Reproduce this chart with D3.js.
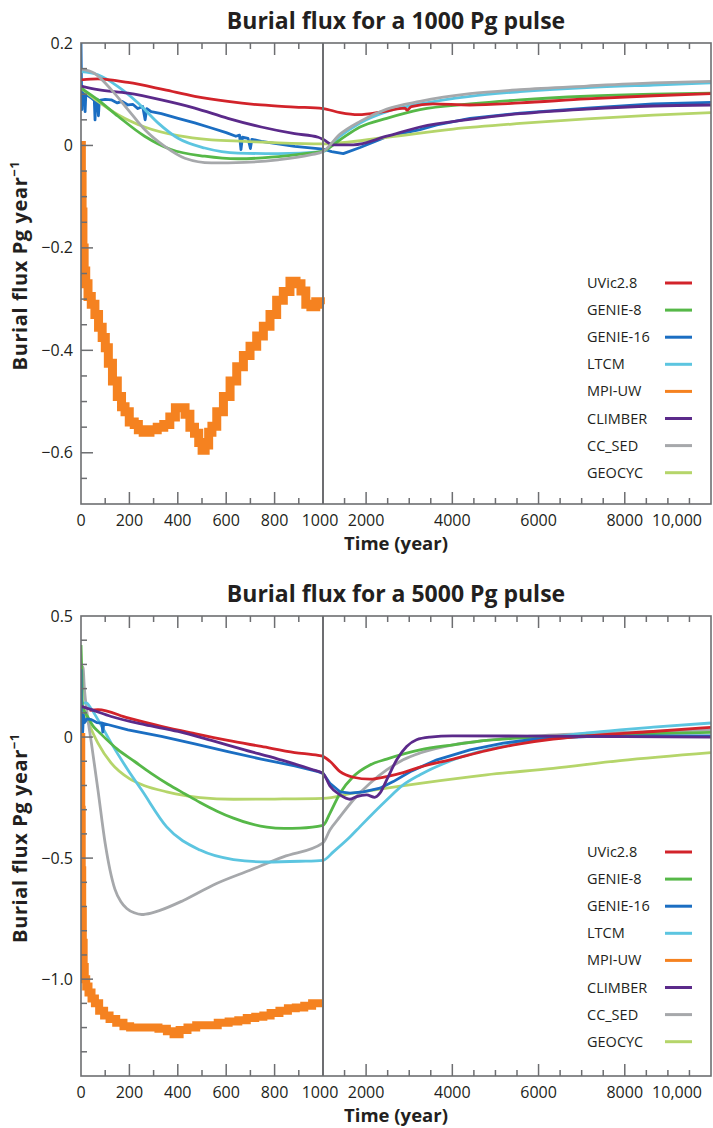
<!DOCTYPE html>
<html><head><meta charset="utf-8">
<script src="https://cdn.jsdelivr.net/npm/d3@7"></script>
<style>
html,body{margin:0;padding:0;background:#fff;}
svg{display:block;font-family:"Open Sans","Noto Sans",sans-serif;}
</style></head>
<body>
<svg id="chart" width="713" height="1128"></svg>
<script>
// ---------- data ----------
const models = ["UVic2.8","GENIE-8","GENIE-16","LTCM","MPI-UW","CLIMBER","CC_SED","GEOCYC"];
const modelColors = ["#d2232a","#56b848","#1b6ec2","#5cc5e0","#f58220","#5b2a8a","#a6a8ab","#b5d56a"];
const xTickValues = [0,200,400,600,800,1000,2000,4000,6000,8000,10000];
const xTickLabels = ["0","200","400","600","800","1000","2000","4000","6000","8000","10,000"];
const topYTicks = [0.2,0,-0.2,-0.4,-0.6];
const topYTickLabels = ["0.2","0","\u22120.2","\u22120.4","\u22120.6"];
const botYTicks = [0.5,0,-0.5,-1.0];
const botYTickLabels = ["0.5","0","\u22120.5","\u22121.0"];

// ---- 1000 Pg pulse ----
const top_uvic = [[0,0.128],[70,0.13],[194,0.123],[343,0.109],[470,0.096],[607,0.086],[744,0.079],[883,0.075],[1000,0.072],[1400,0.064],[1820,0.06],[2400,0.066],[2900,0.073],[2950,0.069],[3050,0.076],[3550,0.081],[4400,0.079],[5570,0.083],[7110,0.091],[8660,0.097],[10000,0.101]];
const top_genie8 = [[0,0.112],[70,0.089],[153,0.057],[263,0.018],[372,-0.008],[511,-0.021],[649,-0.026],[786,-0.023],[924,-0.016],[1000,-0.011],[1395,0.011],[1858,0.036],[2477,0.053],[3250,0.07],[4410,0.081],[5570,0.089],[7120,0.096],[8660,0.1],[10000,0.102]];
const top_genie16 = [[0,0.2],[2,0.12],[4,0.07],[6,0.115],[10,0.105],[14,0.1],[17,0.066],[20,0.1],[30,0.097],[45,0.092],[55,0.088],[58,0.05],[61,0.085],[68,0.09],[72,0.058],[76,0.088],[100,0.09],[125,0.089],[150,0.083],[170,0.086],[194,0.079],[215,0.08],[235,0.072],[255,0.076],[265,0.05],[272,0.072],[290,0.066],[332,0.062],[401,0.053],[470,0.044],[539,0.034],[600,0.025],[640,0.018],[655,0.02],[661,-0.008],[667,0.016],[690,0.014],[700,-0.006],[706,0.012],[745,0.008],[800,0.004],[883,-0.002],[1000,-0.007],[1200,-0.012],[1470,-0.016],[1860,-0.004],[2480,0.017],[3250,0.031],[3640,0.04],[4410,0.053],[5570,0.063],[7120,0.073],[8660,0.081],[10000,0.084]];
const top_ltcm = [[0,0.144],[70,0.138],[153,0.115],[236,0.083],[318,0.044],[401,0.014],[511,-0.005],[649,-0.015],[814,-0.016],[1000,-0.012],[1395,0.018],[1860,0.044],[2480,0.066],[3250,0.081],[4410,0.096],[5570,0.105],[7120,0.113],[8660,0.118],[10000,0.122]];
const top_mpi = [[0,0],[3,-0.06],[6,-0.13],[10,-0.2],[16,-0.245],[23,-0.27],[35,-0.295],[50,-0.31],[65,-0.33],[80,-0.355],[95,-0.375],[106,-0.395],[120,-0.425],[140,-0.46],[160,-0.49],[175,-0.51],[189,-0.52],[210,-0.54],[230,-0.545],[244,-0.555],[270,-0.56],[300,-0.555],[330,-0.55],[354,-0.545],[380,-0.53],[400,-0.512],[420,-0.512],[440,-0.525],[460,-0.55],[478,-0.562],[495,-0.58],[506,-0.595],[520,-0.585],[535,-0.56],[547,-0.548],[575,-0.52],[602,-0.49],[630,-0.46],[657,-0.432],[685,-0.41],[712,-0.392],[740,-0.372],[767,-0.353],[795,-0.33],[822,-0.302],[850,-0.285],[877,-0.265],[900,-0.27],[918,-0.284],[940,-0.31],[960,-0.315],[980,-0.305],[998,-0.31]];
const top_climber = [[0,0.116],[70,0.109],[194,0.102],[332,0.089],[470,0.073],[607,0.053],[745,0.036],[883,0.023],[980,0.016],[1000,0.012],[1240,0.001],[1700,0.001],[2480,0.018],[3250,0.036],[4410,0.051],[5570,0.062],[7120,0.071],[8660,0.077],[10000,0.079]];
const top_ccsed = [[0,0.149],[55,0.141],[125,0.109],[194,0.07],[263,0.031],[346,-0.002],[429,-0.025],[539,-0.034],[676,-0.033],[814,-0.028],[952,-0.018],[1000,-0.012],[1395,0.022],[1860,0.047],[2480,0.071],[3250,0.086],[4410,0.101],[5570,0.109],[7120,0.116],[8660,0.122],[10000,0.125]];
const top_geocyc = [[0,0.112],[70,0.086],[153,0.06],[263,0.036],[401,0.019],[539,0.011],[676,0.008],[814,0.005],[1000,0.003],[2480,0.016],[4020,0.032],[5570,0.043],[7120,0.052],[8660,0.059],[10000,0.064]];

// ---- 5000 Pg pulse ----
const bot_uvic = [[35,0.11],[70,0.113],[194,0.079],[332,0.044],[470,0.014],[607,-0.014],[745,-0.039],[883,-0.064],[980,-0.076],[1000,-0.08],[1160,-0.1],[1395,-0.143],[1703,-0.166],[2090,-0.174],[2477,-0.163],[2860,-0.147],[3250,-0.124],[4020,-0.091],[4790,-0.056],[5570,-0.028],[6340,-0.008],[7120,0.005],[8660,0.023],[10000,0.04]];
const bot_genie8 = [[0,0.38],[3,0.28],[6,0.13],[30,0.08],[50,0.045],[78,0.017],[150,-0.05],[220,-0.1],[290,-0.15],[360,-0.195],[430,-0.235],[492,-0.27],[560,-0.305],[630,-0.335],[700,-0.358],[768,-0.372],[840,-0.377],[905,-0.376],[1000,-0.365],[1160,-0.315],[1395,-0.232],[1703,-0.163],[2090,-0.115],[2477,-0.091],[3250,-0.053],[4020,-0.032],[4790,-0.014],[5570,-0.004],[7120,0.005],[8660,0.014],[10000,0.019]];
const bot_genie16 = [[0,0.28],[2,0.0],[4,0.1],[7,0.02],[10,0.09],[15,0.06],[25,0.075],[43,0.072],[65,0.06],[86,0.058],[90,0.02],[94,0.056],[194,0.03],[332,0.003],[470,-0.028],[607,-0.06],[745,-0.091],[883,-0.119],[980,-0.143],[1000,-0.15],[1160,-0.191],[1395,-0.226],[1625,-0.232],[1935,-0.226],[2320,-0.211],[2630,-0.184],[3020,-0.143],[3640,-0.094],[4410,-0.053],[5180,-0.025],[5950,-0.008],[7120,0.002],[8660,0.005],[10000,0.005]];
const bot_ltcm = [[5,0.14],[22,0.141],[40,0.12],[70,0.072],[125,-0.025],[194,-0.136],[250,-0.218],[354,-0.371],[492,-0.467],[630,-0.506],[768,-0.516],[905,-0.513],[1000,-0.509],[1240,-0.474],[1630,-0.412],[1858,-0.37],[2477,-0.26],[2860,-0.198],[3250,-0.156],[4020,-0.094],[4790,-0.053],[5570,-0.025],[6340,0.0],[7120,0.017],[7890,0.03],[8660,0.041],[10000,0.058]];
const bot_mpi = [[0,0],[2,-0.3],[4,-0.55],[6,-0.72],[9,-0.85],[13,-0.95],[18,-1.0],[25,-1.03],[37,-1.055],[50,-1.08],[65,-1.1],[85,-1.13],[106,-1.15],[130,-1.165],[161,-1.18],[190,-1.195],[216,-1.2],[260,-1.2],[300,-1.2],[340,-1.205],[370,-1.215],[395,-1.228],[420,-1.21],[460,-1.2],[492,-1.19],[540,-1.19],[590,-1.18],[630,-1.175],[670,-1.17],[700,-1.16],[740,-1.155],[767,-1.15],[800,-1.14],[840,-1.13],[870,-1.12],[905,-1.117],[940,-1.11],[970,-1.1],[998,-1.1]];
const bot_climber = [[0,0.127],[43,0.113],[125,0.085],[263,0.051],[401,0.023],[539,-0.014],[676,-0.053],[814,-0.091],[952,-0.133],[1000,-0.15],[1160,-0.202],[1395,-0.239],[1625,-0.257],[1780,-0.246],[2010,-0.239],[2200,-0.249],[2320,-0.232],[2477,-0.177],[2710,-0.094],[2940,-0.039],[3170,-0.011],[3480,0.0],[4000,0.005],[6000,0.004],[8000,0.002],[10000,0.0]];
const bot_ccsed = [[0,0.13],[8,0.29],[14,0.2],[25,0.1],[43,-0.025],[70,-0.218],[100,-0.44],[120,-0.55],[140,-0.628],[165,-0.68],[189,-0.708],[220,-0.726],[251,-0.733],[290,-0.727],[326,-0.716],[423,-0.675],[560,-0.605],[698,-0.55],[836,-0.495],[1000,-0.437],[1160,-0.384],[1395,-0.329],[1703,-0.26],[2090,-0.191],[2477,-0.136],[2860,-0.094],[3250,-0.066],[4020,-0.032],[4790,-0.014],[5570,0.0],[7120,0.014],[8660,0.023],[10000,0.03]];
const bot_geocyc = [[0,0.134],[30,0.06],[70,-0.025],[125,-0.108],[200,-0.172],[260,-0.2],[354,-0.226],[492,-0.25],[630,-0.257],[800,-0.256],[1000,-0.253],[1703,-0.232],[3250,-0.191],[4790,-0.156],[6340,-0.129],[7890,-0.097],[10000,-0.064]];

// ---------- drawing ----------
const svg = d3.select("#chart");
const axisColor = "#6d6e71";
const textColor = "#231f20";

function drawPanel(cfg){
  const g = svg.append("g");
  const x = d3.scaleLinear().domain([0,1000,10000]).range([81,323,711]);
  const y = d3.scaleLinear().domain(cfg.yDomain).range([cfg.bottom, cfg.top]);

  // title
  g.append("text").attr("x",396).attr("y",cfg.top-14).attr("text-anchor","middle")
    .attr("font-size",23).attr("font-weight",700).attr("fill",textColor).text(cfg.title);

  // series
  const smooth = d3.line().x(d=>x(d[0])).y(d=>y(d[1])).curve(d3.curveMonotoneX);
  const jag = d3.line().x(d=>x(d[0])).y(d=>y(d[1])).curve(d3.curveLinear);
  const step = d3.line().x(d=>x(d[0])).y(d=>y(d[1])).curve(d3.curveStep);
  const clipId = "clip"+cfg.id;
  g.append("clipPath").attr("id",clipId).append("rect")
    .attr("x",81).attr("y",cfg.top).attr("width",630).attr("height",cfg.bottom-cfg.top);
  const lines = g.append("g").attr("clip-path",`url(#${clipId})`);
  cfg.order.forEach(i=>{
    lines.append("path").datum(cfg.series[i])
      .attr("fill","none").attr("stroke",modelColors[i])
      .attr("stroke-width", i===4 ? cfg.mpiWidth : 2.8)
      .attr("stroke-linejoin", i===4 ? "miter" : "round").attr("stroke-linecap","butt")
      .attr("d", i===4 ? step : (i===2 ? jag : smooth));
  });

  // frame
  g.append("rect").attr("x",81).attr("y",cfg.top).attr("width",630).attr("height",cfg.bottom-cfg.top)
    .attr("fill","none").attr("stroke",axisColor).attr("stroke-width",1.6);
  // vertical separator at 1000
  g.append("line").attr("x1",x(1000)).attr("x2",x(1000)).attr("y1",cfg.top).attr("y2",cfg.bottom)
    .attr("stroke",axisColor).attr("stroke-width",2);

  // x ticks (inward, bottom and top)
  const xt = [];
  for(let t=100;t<1000;t+=100) xt.push([t, t%200===0]);
  for(let t=1500;t<10000;t+=500) xt.push([t, t%2000===0]);
  xt.forEach(([t,major])=>{
    const L = major?12:6;
    g.append("line").attr("x1",x(t)).attr("x2",x(t)).attr("y1",cfg.bottom).attr("y2",cfg.bottom-L)
      .attr("stroke",axisColor).attr("stroke-width",1.5);
    g.append("line").attr("x1",x(t)).attr("x2",x(t)).attr("y1",cfg.top).attr("y2",cfg.top+L)
      .attr("stroke",axisColor).attr("stroke-width",1.5);
  });
  xTickValues.forEach((t,k)=>{
    let px = x(t), anchor="middle";
    if(t===10000){px = x(t)-9; anchor="end";}
    if(t===1000){px = x(t)-3;}
    g.append("text").attr("x",px).attr("y",cfg.bottom+22).attr("text-anchor",anchor)
      .attr("font-size",16).attr("fill",textColor).text(xTickLabels[k]);
  });
  g.append("text").attr("x",396).attr("y",cfg.bottom+46).attr("text-anchor","middle")
    .attr("font-size",18.5).attr("font-weight",700).attr("fill",textColor).text("Time (year)");

  // y ticks
  const [y0,y1] = cfg.yDomain;
  const n = Math.round((y1-y0)/cfg.minorStep);
  for(let k=1;k<n;k++){
    const v = y0 + k*cfg.minorStep;
    const major = cfg.yTicks.some(m=>Math.abs(m-v)<1e-6);
    g.append("line").attr("x1",81).attr("x2",81+(major?12:6)).attr("y1",y(v)).attr("y2",y(v))
      .attr("stroke",axisColor).attr("stroke-width",1.5);
  }
  cfg.yTicks.forEach((v,k)=>{
    g.append("text").attr("x",73).attr("y",y(v)+5.5).attr("text-anchor","end")
      .attr("font-size",16).attr("fill",textColor).text(cfg.yTickLabels[k]);
  });
  const yl = g.append("text").attr("transform",`translate(27,${(cfg.top+cfg.bottom)/2 - 8}) rotate(-90)`)
    .attr("text-anchor","middle").attr("font-size",20).attr("font-weight",700)
    .attr("letter-spacing",0.6).attr("fill",textColor);
  yl.append("tspan").text("Burial flux Pg year");
  yl.append("tspan").attr("font-size",13).attr("dy",-8).text("\u22121");

  // legend
  const lg = g.append("g");
  models.forEach((m,i)=>{
    const ly = cfg.legendY + i*27.1;
    lg.append("text").attr("x",587).attr("y",ly+5).attr("font-size",14.5).attr("fill",textColor).text(m);
    lg.append("line").attr("x1",665).attr("x2",692).attr("y1",ly).attr("y2",ly)
      .attr("stroke",modelColors[i]).attr("stroke-width",3);
  });
}

drawPanel({
  id:"a", title:"Burial flux for a 1000 Pg pulse", top:43, bottom:504, yDomain:[-0.7,0.2],
  yTicks:topYTicks, yTickLabels:topYTickLabels, minorStep:0.05, legendY:283, mpiWidth:9,
  series:[top_uvic,top_genie8,top_genie16,top_ltcm,top_mpi,top_climber,top_ccsed,top_geocyc],
  order:[2,7,3,1,5,0,6,4]
});
drawPanel({
  id:"b", title:"Burial flux for a 5000 Pg pulse", top:616, bottom:1076, yDomain:[-1.4,0.5],
  yTicks:botYTicks, yTickLabels:botYTickLabels, minorStep:0.1, legendY:852, mpiWidth:8,
  series:[bot_uvic,bot_genie8,bot_genie16,bot_ltcm,bot_mpi,bot_climber,bot_ccsed,bot_geocyc],
  order:[7,6,3,1,2,0,5,4]
});
</script>
</body></html>
